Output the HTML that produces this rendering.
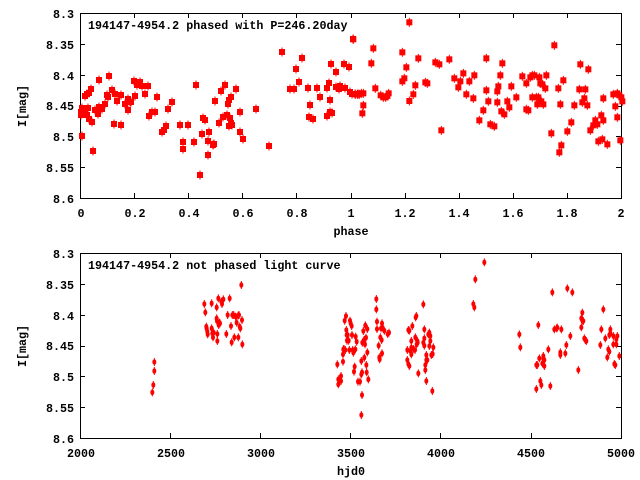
<!DOCTYPE html>
<html><head><meta charset="utf-8"><style>
html,body{margin:0;padding:0;background:#fff;}
svg{display:block;}
text{font-family:"Liberation Mono",monospace;font-weight:bold;font-size:11.7px;fill:#000;}
</style></head><body>
<svg id="s" width="640" height="480" viewBox="0 0 640 480" xmlns="http://www.w3.org/2000/svg">
<rect width="640" height="480" fill="#fff"/>
<g id="ax" stroke="#000" stroke-width="1" fill="none" shape-rendering="crispEdges">
<rect x="80.5" y="13.5" width="541" height="185"/>
<rect x="80.5" y="253.5" width="541" height="185"/>
</g>
<g id="pts"></g>
<text x="88" y="29">194147-4954.2 phased with P=246.20day</text>
<text x="88" y="269">194147-4954.2 not phased light curve</text>
<g text-anchor="end">
<text x="74" y="18">8.3</text><text x="74" y="49">8.35</text><text x="74" y="80">8.4</text><text x="74" y="110">8.45</text><text x="74" y="141">8.5</text><text x="74" y="172">8.55</text><text x="74" y="203">8.6</text>
<text x="74" y="258">8.3</text><text x="74" y="289">8.35</text><text x="74" y="320">8.4</text><text x="74" y="350">8.45</text><text x="74" y="381">8.5</text><text x="74" y="412">8.55</text><text x="74" y="443">8.6</text>
</g>
<g text-anchor="middle">
<text x="81" y="217">0</text><text x="135" y="217">0.2</text><text x="189" y="217">0.4</text><text x="243" y="217">0.6</text><text x="297" y="217">0.8</text><text x="351" y="217">1</text><text x="405" y="217">1.2</text><text x="459" y="217">1.4</text><text x="513" y="217">1.6</text><text x="567" y="217">1.8</text><text x="621" y="217">2</text>
<text x="351" y="235">phase</text>
<text x="81" y="457">2000</text><text x="171" y="457">2500</text><text x="261" y="457">3000</text><text x="351" y="457">3500</text><text x="441" y="457">4000</text><text x="531" y="457">4500</text><text x="621" y="457">5000</text>
<text x="351" y="475">hjd0</text>
<text transform="translate(26,106) rotate(-90)">I[mag]</text>
<text transform="translate(26,346) rotate(-90)">I[mag]</text>
</g>
</svg>
<script>
var NS="http://www.w3.org/2000/svg",g=document.getElementById("pts"),ax=document.getElementById("ax");
function el(t,a,p){var e=document.createElementNS(NS,t);for(var k in a)e.setAttribute(k,a[k]);(p||g).appendChild(e);}
function tk(x1,y1,x2,y2){el("line",{x1:x1,y1:y1,x2:x2,y2:y2},ax);}
[[13,198],[253,438]].forEach(function(b){
 for(var i=0;i<=6;i++){var y=Math.round(b[0]+i*(185/6))+0.5;tk(80,y,85,y);tk(621,y,616,y);}
});
for(var i=0;i<=10;i++){var x=Math.round(80+i*54.1)+0.5;tk(x,198,x,193);tk(x,13,x,18);}
for(var i=0;i<=6;i++){var x=Math.round(80+i*90.1)+0.5;tk(x,438,x,433);tk(x,253,x,258);}
var A=[[81,112],[81,115],[82,108],[82,136],[85,110],[85,96],[87,115],[87,94],[88,108],[89,93],[89,119],[91,89],[92,122],[93,151],[95,110],[98,114],[99,80],[99,107],[102,109],[105,104],[107,95],[108,97],[109,76],[112,90],[114,124],[115,94],[117,101],[121,95],[121,125],[125,104],[128,99],[128,110],[130,102],[131,102],[134,81],[135,96],[137,85],[140,82],[142,86],[145,94],[148,86],[149,116],[152,112],[155,112],[157,97],[162,132],[164,130],[166,126],[168,109],[172,102],[180,125],[183,142],[183,149],[188,125],[194,142],[196,85],[200,175],[202,134],[203,118],[205,120],[208,141],[209,132],[208,155],[213,145],[214,144],[215,101],[219,123],[221,91],[223,117],[225,85],[227,115],[228,104],[229,126],[229,100],[230,118],[231,123],[231,97],[232,125],[236,89],[240,112],[240,132],[243,139],[256,109],[269,146],[282,52],[290,89],[294,89],[296,69],[299,82],[302,58],[308,88],[310,105],[309,117],[313,119],[317,88],[320,97],[327,88],[327,116],[329,83],[330,100],[332,113],[330,112],[331,64],[336,72],[336,87],[339,89],[340,86],[344,64],[345,88],[349,67],[350,92],[353,39],[352,94],[355,94],[358,94]];
var C=[[46,253],[52,253],[58,253],[64,250],[67,310],[70,250],[70,286],[40,88],[100,115],[94,160],[106,235],[122,256],[130,262],[137,262],[142,258],[146,250],[187,127],[187,214],[193,205],[199,172],[208,37],[208,273],[220,253],[226,226],[235,145],[256,217],[262,220],[286,157],[298,163],[304,361],[328,148],[343,205],[355,232],[361,214],[370,190],[379,253],[388,214],[400,265],[403,196],[418,331],[430,301],[439,145],[439,241],[445,274],[451,343],[463,349],[472,277],[472,244],[475,229],[481,196],[484,304],[487,160],[493,313],[502,274],[508,292],[514,229],[529,262],[547,199],[559,220],[559,298],[565,301],[571,202],[577,262],[577,196],[583,196],[589,262],[592,283],[595,262],[598,202],[601,220],[604,274],[607,223],[610,283],[616,235],[619,196],[634,370],[643,106],[655,235],[658,427],[661,283],[664,406],[670,211],[682,364],[694,337],[703,286],[718,238],[721,163],[727,277],[733,265],[736,238],[742,286],[745,178],[751,361],[760,346],[766,331],[772,343],[775,394],[784,316],[787,388],[790,331],[790,265],[802,403],[820,253],[826,289],[832,250],[832,322],[838,256],[841,391],[844,262],[847,274]];
function sq(x,y){el("rect",{x:x-3,y:y-3,width:6,height:6,fill:"#f00"});el("rect",{x:x-0.5,y:y-4.5,width:1,height:9,fill:"#f00"});}
A.forEach(function(p){sq(p[0],p[1]);});
C.forEach(function(p){sq(340+p[0]/3,10+p[1]/3);});
var B2=[[277,427],[280,405],[283,363],[283,336],[433,162],[436,187],[439,230],[440,236],[442,245],[443,253],[455,160],[455,235],[457,250],[459,262],[461,248],[470,172],[470,205],[471,213],[472,252],[472,273],[475,145],[476,225],[478,218],[480,220],[484,155],[486,162],[490,148],[499,252],[503,195],[509,145],[513,228],[515,277],[517,195],[521,195],[523,262],[527,200],[530,218],[534,197],[535,262],[537,195],[539,230],[541,235],[544,105],[546,210],[547,283],[832,343],[835,388],[835,403],[843,393],[843,378],[849,313],[849,335],[850,298],[852,297],[854,212],[856,300],[858,198],[859,240],[860,255],[861,272],[863,255],[866,272],[868,300],[870,212],[872,220],[875,228],[876,255],[878,300],[880,308],[882,365],[884,350],[886,298],[887,260],[890,275],[894,395],[900,395],[904,333],[904,373],[906,367],[906,435],[904,495],[907,278],[910,243],[912,270],[913,323],[915,283],[916,226],[918,263],[919,345],[920,367],[922,307],[922,237],[925,388],[949,178],[949,147],[951,215],[951,237],[956,287],[958,322],[959,328],[961,262],[963,235],[965,270],[966,310],[966,220],[967,232],[973,242],[983,252],[987,248]];
var B3=[[52,300],[52,330],[55,240],[55,342],[58,242],[58,348],[61,303],[64,273],[64,293],[64,313],[67,228],[70,297],[75,300],[76,262],[77,202],[79,198],[80,283],[82,273],[83,278],[85,370],[100,163],[100,278],[103,238],[103,265],[103,287],[106,345],[106,360],[109,315],[109,330],[109,393],[112,330],[115,253],[118,248],[118,288],[121,258],[121,273],[124,315],[127,423],[128,312],[130,292],[250,162],[253,172],[256,88],[283,37],[388,253],[391,292],[439,345],[439,417],[442,345],[445,225],[448,325],[451,393],[454,405],[457,340],[460,318],[460,325],[463,330],[463,348],[475,298],[481,408],[487,127],[493,238],[500,235],[502,233],[511,307],[511,315],[514,238],[526,310],[529,285],[532,115],[541,258],[547,127],[565,360],[574,232],[574,205],[577,188],[577,212],[580,213],[583,265],[586,270],[589,273],[631,285],[634,238],[640,178],[646,265],[652,322],[655,298],[658,305],[658,255],[661,238],[661,250],[670,258],[670,283],[673,342],[676,345],[679,268],[679,283],[682,258],[688,318]];
function dot(x,y){el("ellipse",{cx:x,cy:y,rx:2,ry:2.8,fill:"#f00"});el("rect",{x:x-0.5,y:y-4,width:1,height:8,fill:"#f00"});}
B2.forEach(function(p){dot(60+p[0]/3,250+p[1]/3);});
B3.forEach(function(p){dot(390+p[0]/3,250+p[1]/3);});
</script>
</body></html>
